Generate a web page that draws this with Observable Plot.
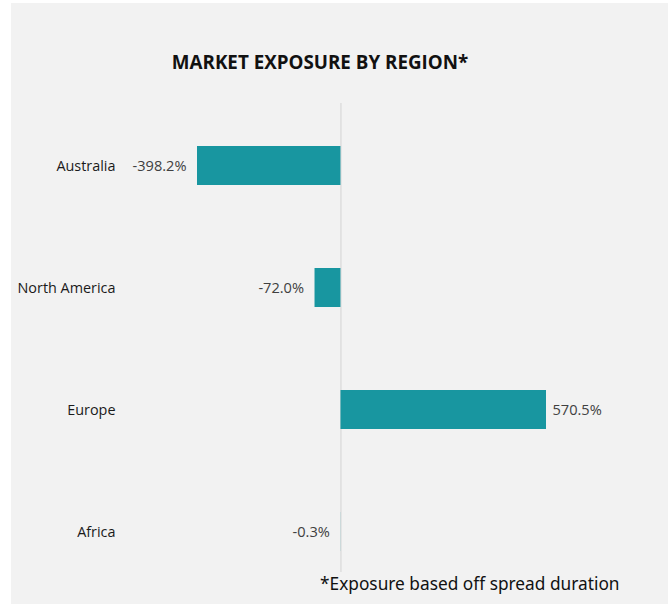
<!DOCTYPE html>
<html>
<head>
<meta charset="utf-8">
<script src="https://cdn.jsdelivr.net/npm/d3@7"></script>
<script src="https://cdn.jsdelivr.net/npm/@observablehq/plot@0.6"></script>
<style>
  html, body { margin: 0; padding: 0; background: #ffffff; }
  #wrap { position: relative; width: 672px; height: 604px; overflow: hidden; }
  #panel { position: absolute; left: 11px; top: 3px; width: 657px; height: 601px; background: #f2f2f2; }
  #title { position: absolute; left: 70px; width: 500px; top: 49px; text-align: center;
           font-family: "Open Sans", sans-serif; font-weight: bold; font-size: 18.8px; color: #111; }
  #chart { position: absolute; left: 0; top: 0; }
  #note { position: absolute; left: 320px; top: 572px; font-family: "Noto Sans", sans-serif;
          font-size: 17.3px; color: #111; white-space: nowrap; }
</style>
</head>
<body>
<div id="wrap">
  <div id="panel"></div>
  <div id="title">MARKET EXPOSURE BY REGION*</div>
  <div id="chart"></div>
  <div id="note">*Exposure based off spread duration</div>
</div>
<script>
const regions = ["Australia", "North America", "Europe", "Africa"];
const exposure = [-398.2, -72.0, 570.5, -0.3];
const labels = ["-398.2%", "-72.0%", "570.5%", "-0.3%"];

const data = regions.map((r, i) => ({region: r, value: exposure[i], label: labels[i]}));

const chart = Plot.plot({
  width: 672,
  height: 604,
  marginTop: 103,
  marginBottom: 10,
  marginLeft: 197,
  marginRight: 126,
  style: {background: "transparent", fontFamily: "'Open Sans', sans-serif", fontSize: "14.4px"},
  x: {axis: null},
  y: {domain: regions, padding: 0.68, paddingOuter: 0.34, label: null},
  marks: [
    Plot.ruleX([0], {stroke: "#d4d4d4", strokeWidth: 1, insetBottom: 22}),
    Plot.barX(data, {x: "value", y: "region", fill: "#1896a0"}),
    Plot.text(data.filter(d => d.value < 0), {x: "value", y: "region", text: "label", textAnchor: "end", dx: -11, fill: "#404040", fontSize: 14.6}),
    Plot.text(data.filter(d => d.value >= 0), {x: "value", y: "region", text: "label", textAnchor: "start", dx: 6, fill: "#404040", fontSize: 14.6}),
    Plot.axisY({tickSize: 0, tickPadding: 82, label: null, fill: "#1a1a1a", fontSize: 14.4})
  ]
});
document.getElementById("chart").appendChild(chart);
</script>
</body>
</html>
